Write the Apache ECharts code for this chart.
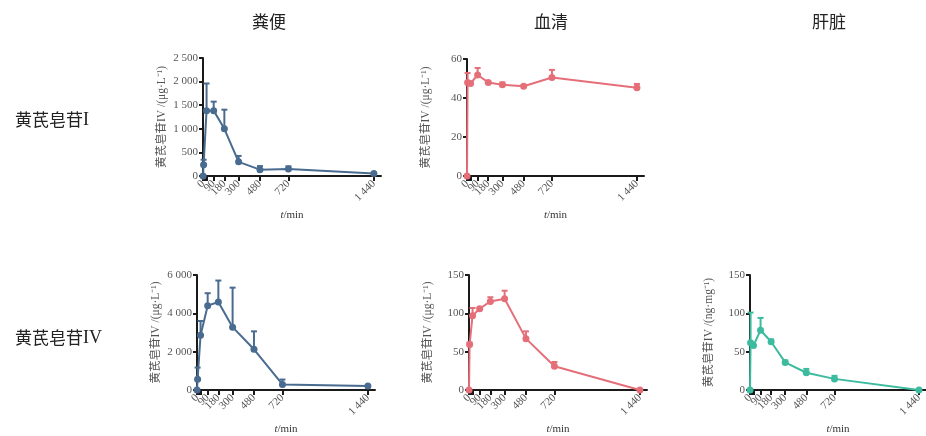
<!DOCTYPE html>
<html><head><meta charset="utf-8">
<script src="https://cdn.jsdelivr.net/npm/echarts@6/dist/echarts.min.js"></script>
<style>html,body{margin:0;padding:0;background:#fff}#c{width:926px;height:436px}</style>
</head><body><div id="c"></div>
<script>
// ---- data ----
const times = [0, 5, 30, 90, 180, 300, 480, 720, 1440];
const tickValues = [0, 5, 10, 15, 20, 25, 30, 90, 180, 300, 480, 720, 1440];
// tick labels split over two overlaid axes so that none is dropped by overlap handling
const labelValuesA = [0, 180, 480, 1440];
const labelValuesB = [90, 300, 720];
const colTitles = ['粪便', '血清', '肝脏'];
const rowTitlesCJK = ['黄芪皂苷', '黄芪皂苷'];
const rowTitlesLatin = ['I', 'IV'];

const fecesI_mean  = [0, 240, 1385, 1385, 1000, 300, 135, 148, 55];
const fecesI_upper = [0, 345, 1960, 1575, 1405, 425, 210, 205, 60];
const serumI_mean  = [0, 48, 47.5, 51.8, 48, 46.8, 46, 50.5, 45.3];
const serumI_upper = [0, 52.8, 48, 55.4, 48.5, 48, 46.5, 54.4, 47.2];
const fecesIV_mean  = [0, 560, 2860, 4400, 4590, 3280, 2125, 290, 205];
const fecesIV_upper = [0, 1170, 3600, 5050, 5710, 5340, 3060, 545, 205];
const serumIV_mean  = [0, 59.5, 97, 106, 115.5, 119, 67, 31, 0];
const serumIV_upper = [0, 62, 107, 107.5, 121, 129.5, 76.5, 36.5, 0];
const liverIV_mean  = [0, 61.5, 58, 78, 63, 36, 22.5, 14.5, 0];
const liverIV_upper = [0, 101, 58, 94, 66, 38.5, 27.5, 18.5, 0];

const blue = '#486b8f', red = '#e56f79', teal = '#3dbb9f';

const panels = [
  {grid:{left:203, top:58, width:178, height:118}, mean:fecesI_mean, upper:fecesI_upper, ymax:2500, yint:500, color:blue, unit:'μg·L⁻¹'},
  {grid:{left:467, top:59, width:177, height:117}, mean:serumI_mean, upper:serumI_upper, ymax:60, yint:20, color:red, unit:'μg·L⁻¹'},
  {grid:{left:197, top:275, width:178, height:118}, mean:fecesIV_mean, upper:fecesIV_upper, ymax:6000, yint:2000, color:blue, unit:'μg·L⁻¹'},
  {grid:{left:469, top:275, width:178, height:118}, mean:serumIV_mean, upper:serumIV_upper, ymax:150, yint:50, color:red, unit:'μg·L⁻¹'},
  {grid:{left:750, top:275, width:178, height:118}, mean:liverIV_mean, upper:liverIV_upper, ymax:150, yint:50, color:teal, unit:'ng·mg⁻¹'}
];

function fmt(v){
  const s = String(Math.round(v));
  return s.length > 3 ? s.slice(0, s.length-3) + ' ' + s.slice(-3) : s;
}
const serif = '"Liberation Serif", "Noto Sans CJK SC", serif';
const axisColor = '#1a1a1a';
const labelColor = '#555';

const grids = [], xAxes = [], yAxes = [], series = [];
panels.forEach((p, i) => {
  grids.push(p.grid);
  const xLabelBase = {rotate:45, fontSize:11, color:labelColor, fontFamily:serif, margin:6, formatter:fmt, hideOverlap:false};
  xAxes.push({
    type:'value', gridIndex:i, min:0, max:1500, position:'bottom', offset:0,
    axisLine:{show:true, onZero:false, lineStyle:{color:axisColor, width:2}},
    axisTick:{show:true, customValues:tickValues, length:5, lineStyle:{color:axisColor, width:2}},
    axisLabel:Object.assign({customValues:labelValuesA, showMinLabel:true, showMaxLabel:true}, xLabelBase),
    splitLine:{show:false},
    name:'{i|t}/min', nameLocation:'middle', nameGap:34,
    nameTextStyle:{fontSize:11, color:'#333', fontFamily:serif, rich:{i:{fontStyle:'italic', fontSize:11, fontFamily:serif, color:'#333'}}}
  });
  xAxes.push({
    type:'value', gridIndex:i, min:0, max:1500, position:'bottom', offset:0,
    axisLine:{show:false, onZero:false}, axisTick:{show:false},
    axisLabel:Object.assign({customValues:labelValuesB, showMinLabel:true, showMaxLabel:true}, xLabelBase),
    splitLine:{show:false}
  });
  yAxes.push({
    type:'value', gridIndex:i, min:0, max:p.ymax, interval:p.yint,
    axisLine:{show:true, onZero:false, lineStyle:{color:axisColor, width:2}},
    axisTick:{show:true, length:4, lineStyle:{color:axisColor, width:2}},
    axisLabel:{fontSize:11, color:labelColor, fontFamily:serif, margin:5, formatter:fmt, showMinLabel:true, hideOverlap:false},
    splitLine:{show:false},
    name:'黄芪皂苷IV /(' + p.unit + ')', nameLocation:'middle', nameRotate:90, nameGap:35,
    nameTextStyle:{fontSize:11.5, color:'#555', fontFamily:serif}
  });
  const lineData = times.map((t, k) => [t, p.mean[k]]);
  const errData = times.map((t, k) => [t, p.mean[k], p.upper[k]]);
  series.push({
    type:'custom', xAxisIndex:2*i, yAxisIndex:i, z:2, data:errData,
    renderItem:(params, api) => {
      const x = api.value(0), m = api.value(1), u = api.value(2);
      if (!(u > m)) return null;
      const a = api.coord([x, m]), b = api.coord([x, u]);
      const w = 3;
      return {type:'group', children:[
        {type:'line', shape:{x1:a[0], y1:a[1], x2:b[0], y2:b[1]}, style:{stroke:p.color, lineWidth:2}},
        {type:'line', shape:{x1:b[0]-w, y1:b[1], x2:b[0]+w, y2:b[1]}, style:{stroke:p.color, lineWidth:2}}
      ]};
    }
  });
  series.push({
    type:'line', xAxisIndex:2*i, yAxisIndex:i, z:3, data:lineData,
    symbol:'circle', symbolSize:7, showSymbol:true,
    lineStyle:{color:p.color, width:2}, itemStyle:{color:p.color}
  });
});

const titleFont = '"Noto Sans CJK SC", sans-serif';
const rich = {c:{fontSize:17, color:'#222', fontFamily:titleFont}, l:{fontSize:18, color:'#222', fontFamily:'"Liberation Serif", serif'}};
const titles = [
  {text:colTitles[0], left:264, top:8, textAlign:'center'},
  {text:colTitles[1], left:546, top:8, textAlign:'center'},
  {text:colTitles[2], left:824, top:8, textAlign:'center'},
  {text:'{c|' + rowTitlesCJK[0] + '}{l|' + rowTitlesLatin[0] + '}', left:10, top:106},
  {text:'{c|' + rowTitlesCJK[1] + '}{l|' + rowTitlesLatin[1] + '}', left:10, top:324}
].map(t => Object.assign(t, {textStyle:{fontSize:17, fontWeight:'normal', color:'#222', fontFamily:titleFont, rich:rich}}));

const chart = echarts.init(document.getElementById('c'), null, {renderer:'canvas'});
chart.setOption({
  animation:false,
  backgroundColor:'#fff',
  title:titles,
  grid:grids, xAxis:xAxes, yAxis:yAxes, series:series
});
</script></body></html>
